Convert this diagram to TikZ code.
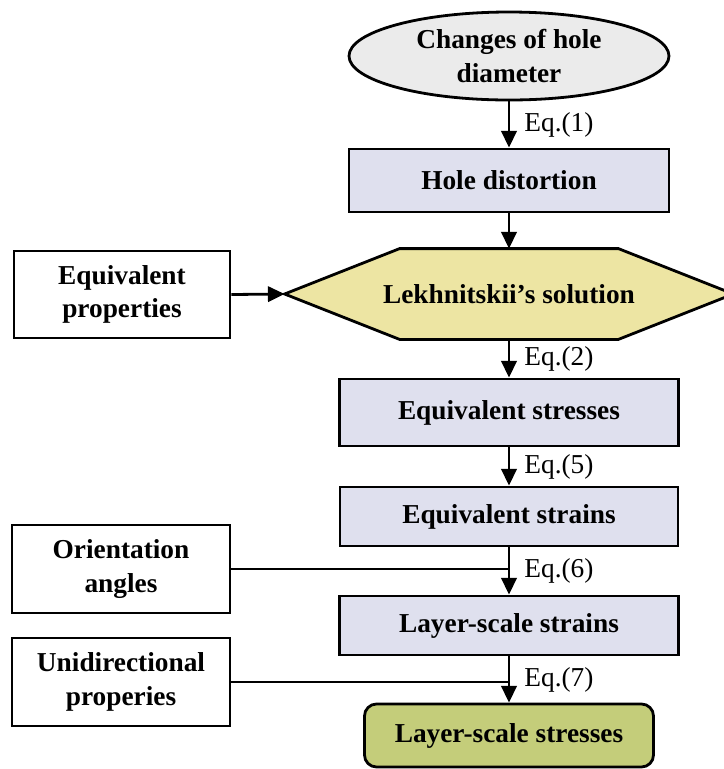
\documentclass[tikz,border=0pt]{standalone}
\usepackage{fontspec}
\setmainfont{Liberation Serif}
\usetikzlibrary{arrows.meta,shapes.geometric,backgrounds}
\definecolor{fg}{RGB}{0,0,0}
\definecolor{lav}{RGB}{223,224,238}
\definecolor{gry}{RGB}{235,235,235}
\definecolor{khaki}{RGB}{237,229,163}
\definecolor{olive}{RGB}{196,205,122}
\tikzset{
  every picture/.style={fg, line width=2.1pt, line join=miter,
    >={Triangle[length=12.5pt,width=11.5pt]}},
  every node/.style={font=\fontsize{20.5}{25}\selectfont\bfseries, align=center, inner sep=0pt},
  % Kaesten
  startbox/.style={ellipse, draw, fill=gry},
  procbox/.style={rectangle, draw, fill=lav},
  inbox/.style={rectangle, draw, fill=white, minimum width=163.5pt, minimum height=66pt},
  solbox/.style={rectangle, minimum width=334.5pt, minimum height=66pt},
  hexa/.style={draw=fg, line width=2.1pt, line join=miter, fill=khaki},
  endbox/.style={rectangle, rounded corners=9pt, draw, fill=olive},
  % Beschriftung der Pfeile
  eqlbl/.style={font=\fontsize{20.5}{25}\selectfont, anchor=west, xshift=10.5pt},
}

\begin{document}
\begin{tikzpicture}[x=0.75pt, y=-0.75pt]
  \useasboundingbox (0,0) rectangle (724,769);
  % Hauptkette
  \node[startbox, minimum width=240pt, minimum height=66pt] (chg) at (509,56) {Changes of hole\\diameter};
  \node[procbox, minimum width=240pt, minimum height=47.25pt] (dist) at (509,180.5) {Hole distortion};
  \node[solbox] (lekh) at (509,294) {Lekhnitskii's solution};
  \begin{scope}[on background layer]
    \draw[hexa] (lekh.west) -- ([xshift=86.25pt]lekh.north west) -- ([xshift=-86.25pt]lekh.north east)
      -- (lekh.east) -- ([xshift=-86.25pt]lekh.south east) -- ([xshift=86.25pt]lekh.south west) -- cycle;
  \end{scope}
  \node[procbox, minimum width=254.25pt, minimum height=50.25pt] (eqstress) at (509,412.5) {Equivalent stresses};
  \node[procbox, minimum width=253.5pt, minimum height=44.25pt] (eqstrain) at (509,516.5) {Equivalent strains};
  \node[procbox, minimum width=254.25pt, minimum height=44.25pt] (lsstrain) at (509,625.5) {Layer-scale strains};
  \node[endbox, minimum width=216.75pt, minimum height=47.25pt] (lsstress) at (509,735.5) {Layer-scale stresses};
  % Eingangsgroessen links
  \node[inbox, minimum width=162pt, minimum height=65.25pt] (eqprop) at (122,294.5) {Equivalent\\properties};
  \node[inbox] (orient) at (121,569) {Orientation\\angles};
  \node[inbox] (unidir) at (121,682) {Unidirectional\\properies};
  % Pfeile
  \draw[->] (chg.south) -- node[eqlbl] (eq1) {Eq.(1)} (dist.north);
  \draw[->] (dist.south) -- (lekh.north);
  \draw[->] (lekh.south) -- node[eqlbl] (eq2) {Eq.(2)} (eqstress.north);
  \draw[->] (eqstress.south) -- node[eqlbl] (eq5) {Eq.(5)} (eqstrain.north);
  \draw[->] (eqstrain.south) -- node[eqlbl] (eq6) {Eq.(6)} (lsstrain.north);
  \draw[->] (lsstrain.south) -- node[eqlbl] (eq7) {Eq.(7)} (lsstress.north);
  \draw[->] (eqprop.east) -- (lekh.west);
  \draw (orient.east) -- (orient.east -| eqstrain.south);
  \draw (unidir.east) -- (unidir.east -| lsstrain.south);
\end{tikzpicture}
\end{document}
